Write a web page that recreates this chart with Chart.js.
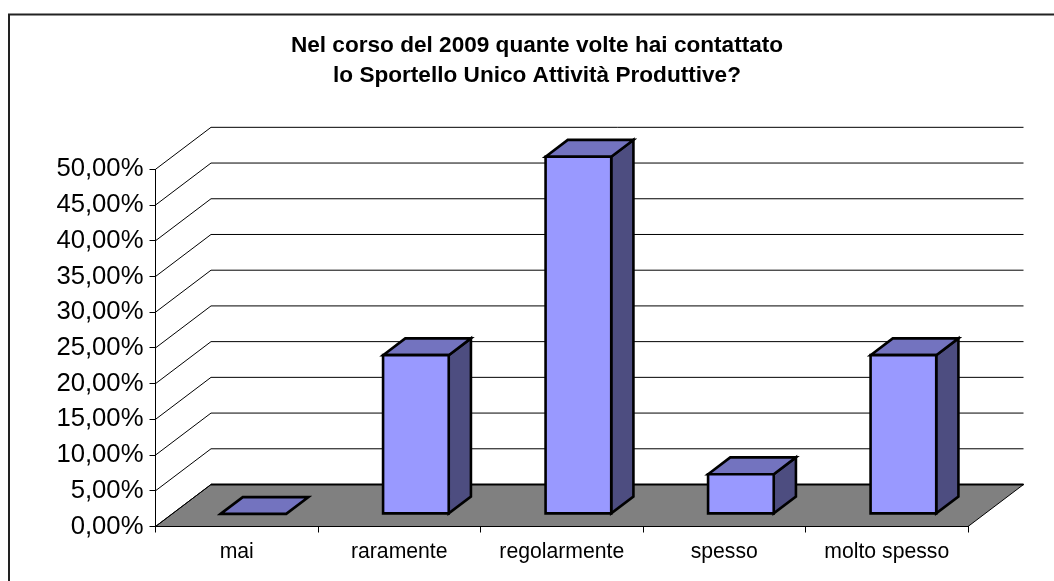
<!DOCTYPE html>
<html>
<head>
<meta charset="utf-8">
<style>
  html, body { margin: 0; padding: 0; background: #fff; }
  #wrap { position: relative; width: 1054px; height: 581px; }
</style>
<script src="https://cdn.jsdelivr.net/npm/chart.js@4/dist/chart.umd.min.js"></script>
</head>
<body>
<div id="wrap"><canvas id="chart" width="1054" height="581"></canvas></div>
<script>
// --- Data ---
const categories = ["mai", "raramente", "regolarmente", "spesso", "molto spesso"];
const values = [0, 22.22, 50, 5.56, 22.22];
const titleLines = [
  "Nel corso del 2009 quante volte hai contattato",
  "lo Sportello Unico Attività Produttive?"
];

// --- 3D look (Excel style) ---
const WALL_DX = 55.5;
const WALL_DY = 42;
const BAR_START = 0.3;   // where the bar sits in the floor depth
const BAR_DEPTH = 0.4;
const BAR_LINE = 2.6;

const FONT = "'Liberation Sans', Arial, sans-serif";

function poly(ctx, pts, fill, lineWidth) {
  ctx.beginPath();
  pts.forEach((p, i) => (i ? ctx.lineTo(p[0], p[1]) : ctx.moveTo(p[0], p[1])));
  ctx.closePath();
  if (fill) {
    ctx.fillStyle = fill;
    ctx.fill();
  }
  ctx.lineWidth = lineWidth;
  ctx.strokeStyle = "#000";
  ctx.lineJoin = "miter";
  ctx.stroke();
}

const excel3d = {
  id: "excel3d",
  afterLayout(chart) {
    // title in the original is centred a bit right of the page
    chart.titleBlock.left = 20;
    chart.titleBlock.right = 1054;
  },
  beforeDraw(chart) {
    const { ctx, chartArea: a, scales } = chart;
    ctx.save();

    // outer frame, only top and left are inside the picture
    ctx.strokeStyle = "#222";
    ctx.lineWidth = 2;
    ctx.beginPath();
    ctx.moveTo(9, 581);
    ctx.lineTo(9, 14.5);
    ctx.lineTo(1054, 14.5);
    ctx.stroke();

    // floor
    const y0 = scales.y.getPixelForValue(0);
    poly(ctx, [
      [a.left, y0],
      [a.left + WALL_DX, y0 - WALL_DY],
      [a.right + WALL_DX, y0 - WALL_DY],
      [a.right, y0]
    ], "#808080", 1);

    // gridlines on side wall and back wall
    ctx.strokeStyle = "#000";
    ctx.lineWidth = 1;
    scales.y.ticks.forEach((t) => {
      const y = scales.y.getPixelForValue(t.value);
      ctx.beginPath();
      ctx.moveTo(a.left, y);
      ctx.lineTo(a.left + WALL_DX, y - WALL_DY);
      ctx.lineTo(a.right + WALL_DX, y - WALL_DY);
      ctx.stroke();
    });

    // heavier back edge of the floor
    ctx.lineWidth = 2;
    ctx.beginPath();
    ctx.moveTo(a.left + WALL_DX, y0 - WALL_DY);
    ctx.lineTo(a.right + WALL_DX, y0 - WALL_DY);
    ctx.stroke();
    ctx.restore();
  },
  beforeDatasetsDraw(chart) {
    const { ctx } = chart;
    const dx = WALL_DX * BAR_DEPTH;
    const dy = WALL_DY * BAR_DEPTH;
    ctx.save();
    // the library draws the front faces, pushed back onto the floor
    ctx.translate(WALL_DX * BAR_START, -WALL_DY * BAR_START);
    chart.getDatasetMeta(0).data.forEach((bar) => {
      const l = bar.x - bar.width / 2;
      const r = bar.x + bar.width / 2;
      if (bar.base - bar.y > 1) {
        poly(ctx, [
          [r, bar.y],
          [r + dx, bar.y - dy],
          [r + dx, bar.base - dy],
          [r, bar.base]
        ], "#4d4d80", BAR_LINE);
      }
      poly(ctx, [
        [l, bar.y],
        [l + dx, bar.y - dy],
        [r + dx, bar.y - dy],
        [r, bar.y]
      ], "#7373bf", BAR_LINE);
    });
  },
  afterDatasetsDraw(chart) {
    const { ctx } = chart;
    // outline of the front faces, centred on the bar edge
    chart.getDatasetMeta(0).data.forEach((bar) => {
      if (bar.base - bar.y > 1) {
        const l = bar.x - bar.width / 2;
        const r = bar.x + bar.width / 2;
        poly(ctx, [[l, bar.y], [r, bar.y], [r, bar.base], [l, bar.base]], null, BAR_LINE);
      }
    });
    ctx.restore();
  }
};

// --- Chart ---
new Chart(document.getElementById("chart"), {
  type: "bar",
  data: {
    labels: categories,
    datasets: [{
      data: values,
      backgroundColor: "#9999ff",
      borderWidth: 0,
      barPercentage: 0.404,
      categoryPercentage: 1,
      clip: false
    }]
  },
  options: {
    responsive: false,
    animation: false,
    layout: { padding: { left: 0, right: 86, top: 0, bottom: 0 } },
    plugins: {
      legend: { display: false },
      tooltip: { enabled: false },
      title: {
        display: true,
        text: titleLines,
        color: "#000",
        font: { family: FONT, size: 22.6, weight: "bold", lineHeight: 1.33 },
        padding: { top: 31, bottom: 78.2 }
      }
    },
    scales: {
      x: {
        afterFit(s) { s.height = 54.5; },
        grid: { drawOnChartArea: false, drawTicks: true, tickLength: 6, color: "#000" },
        border: { color: "#000", width: 1 },
        ticks: { color: "#000", font: { family: FONT, size: 21.2 }, padding: 7, maxRotation: 0, autoSkip: false }
      },
      y: {
        min: 0,
        max: 50,
        afterFit(s) { s.width = 155.5; },
        grid: { drawOnChartArea: false, drawTicks: true, tickLength: 6, color: "#000" },
        border: { color: "#000", width: 1 },
        ticks: {
          stepSize: 5,
          color: "#000",
          padding: 6,
          font: { family: FONT, size: 25.7 },
          callback: (v) => v.toFixed(2).replace(".", ",") + "%"
        }
      }
    }
  },
  plugins: [excel3d]
});
</script>
</body>
</html>
